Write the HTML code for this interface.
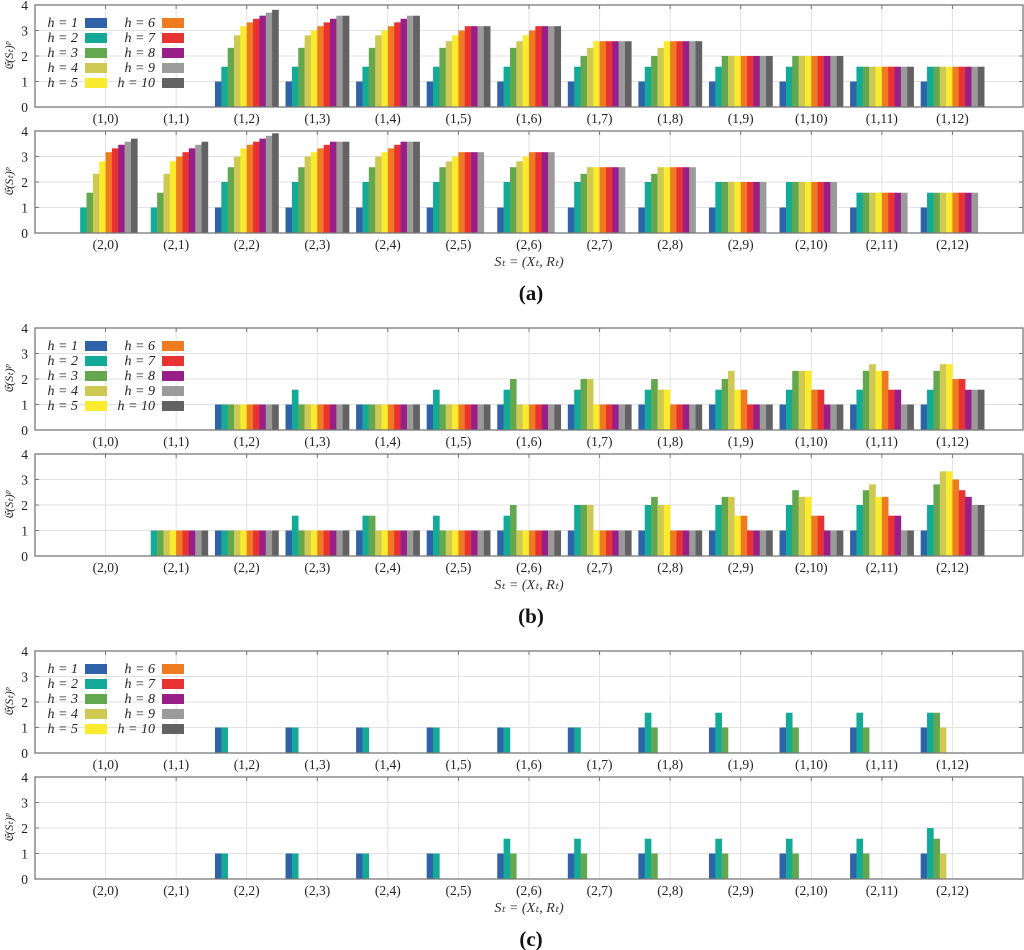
<!DOCTYPE html>
<html><head><meta charset="utf-8"><style>
body{margin:0;background:#fff;}
svg{display:block;font-family:"Liberation Serif",serif;}
</style></head><body>
<svg id="chart" width="1024" height="950"></svg>
<script>
const categories1 = ["(1,0)","(1,1)","(1,2)","(1,3)","(1,4)","(1,5)","(1,6)","(1,7)","(1,8)","(1,9)","(1,10)","(1,11)","(1,12)"];
const categories2 = ["(2,0)","(2,1)","(2,2)","(2,3)","(2,4)","(2,5)","(2,6)","(2,7)","(2,8)","(2,9)","(2,10)","(2,11)","(2,12)"];
const seriesNames = ["h = 1","h = 2","h = 3","h = 4","h = 5","h = 6","h = 7","h = 8","h = 9","h = 10"];
const yTicks = [0,1,2,3,4];
const panelLabels = ["(a)","(b)","(c)"];

const valuesA1 = [
[0,0,0,0,0,0,0,0,0,0],[0,0,0,0,0,0,0,0,0,0],
[1,1.58,2.32,2.81,3.17,3.32,3.46,3.58,3.70,3.81],
[1,1.58,2.32,2.81,3,3.17,3.32,3.46,3.58,3.58],
[1,1.58,2.32,2.81,3,3.17,3.32,3.46,3.58,3.58],
[1,1.58,2.32,2.58,2.81,3,3.17,3.17,3.17,3.17],
[1,1.58,2.32,2.58,2.81,3,3.17,3.17,3.17,3.17],
[1,1.58,2,2.32,2.58,2.58,2.58,2.58,2.58,2.58],
[1,1.58,2,2.32,2.58,2.58,2.58,2.58,2.58,2.58],
[1,1.58,2,2,2,2,2,2,2,2],
[1,1.58,2,2,2,2,2,2,2,2],
[1,1.58,1.58,1.58,1.58,1.58,1.58,1.58,1.58,1.58],
[1,1.58,1.58,1.58,1.58,1.58,1.58,1.58,1.58,1.58]];
const valuesA2 = [
[0,1,1.58,2.32,2.81,3.17,3.32,3.46,3.58,3.70],
[0,1,1.58,2.32,2.81,3,3.17,3.32,3.46,3.58],
[1,2,2.58,3,3.32,3.46,3.58,3.70,3.81,3.91],
[1,2,2.58,3,3.17,3.32,3.46,3.58,3.58,3.58],
[1,2,2.58,3,3.17,3.32,3.46,3.58,3.58,3.58],
[1,2,2.58,2.81,3,3.17,3.17,3.17,3.17,0],
[1,2,2.58,2.81,3,3.17,3.17,3.17,3.17,0],
[1,2,2.32,2.58,2.58,2.58,2.58,2.58,2.58,0],
[1,2,2.32,2.58,2.58,2.58,2.58,2.58,2.58,0],
[1,2,2,2,2,2,2,2,2,0],
[1,2,2,2,2,2,2,2,2,0],
[1,1.58,1.58,1.58,1.58,1.58,1.58,1.58,1.58,0],
[1,1.58,1.58,1.58,1.58,1.58,1.58,1.58,1.58,0]];
const valuesB1 = [
[0,0,0,0,0,0,0,0,0,0],[0,0,0,0,0,0,0,0,0,0],
[1,1,1,1,1,1,1,1,1,1],
[1,1.58,1,1,1,1,1,1,1,1],
[1,1,1,1,1,1,1,1,1,1],
[1,1.58,1,1,1,1,1,1,1,1],
[1,1.58,2,1,1,1,1,1,1,1],
[1,1.58,2,2,1,1,1,1,1,1],
[1,1.58,2,1.58,1.58,1,1,1,1,1],
[1,1.58,2,2.32,1.58,1.58,1,1,1,1],
[1,1.58,2.32,2.32,2.32,1.58,1.58,1,1,1],
[1,1.58,2.32,2.58,2.32,2.32,1.58,1.58,1,1],
[1,1.58,2.32,2.58,2.58,2,2,1.58,1.58,1.58]];
const valuesB2 = [
[0,0,0,0,0,0,0,0,0,0],
[0,1,1,1,1,1,1,1,1,1],
[1,1,1,1,1,1,1,1,1,1],
[1,1.58,1,1,1,1,1,1,1,1],
[1,1.58,1.58,1,1,1,1,1,1,1],
[1,1.58,1,1,1,1,1,1,1,1],
[1,1.58,2,1,1,1,1,1,1,1],
[1,2,2,2,1,1,1,1,1,1],
[1,2,2.32,2,2,1,1,1,1,1],
[1,2,2.32,2.32,1.58,1.58,1,1,1,1],
[1,2,2.58,2.32,2.32,1.58,1.58,1,1,1],
[1,2,2.58,2.81,2.32,2.32,1.58,1.58,1,1],
[1,2,2.81,3.32,3.32,3,2.58,2.32,2,2]];
const valuesC1 = [
[0,0,0,0],[0,0,0,0],[1,1,0,0],[1,1,0,0],[1,1,0,0],[1,1,0,0],[1,1,0,0],[1,1,0,0],
[1,1.58,1,0],[1,1.58,1,0],[1,1.58,1,0],[1,1.58,1,0],[1,1.58,1.58,1]];
const valuesC2 = [
[0,0,0,0],[0,0,0,0],[1,1,0,0],[1,1,0,0],[1,1,0,0],[1,1,0,0],
[1,1.58,1,0],[1,1.58,1,0],[1,1.58,1,0],[1,1.58,1,0],[1,1.58,1,0],[1,1.58,1,0],[1,2,1.58,1]];

const colors = ["#2f62a9","#14aa98","#63a84f","#cdc952","#fbeb2f","#ee7b20","#e93232","#991f88","#9b9b9b","#626262"];
const NS="http://www.w3.org/2000/svg";
const svg=document.getElementById('chart');
function mk(tag,attrs,parent){const e=document.createElementNS(NS,tag);for(const k in attrs)e.setAttribute(k,attrs[k]);(parent||svg).appendChild(e);return e;}

const L=35,R=1023,PH=102;
function xScale(i){return L+(i+1)*(R-L)/14;}
const groupW=0.9*(R-L)/14, barW=groupW/10;

function panel(top,cats,vals,name,legend){
  const bottom=top+PH;
  const y=v=>bottom-v*PH/4;
  const g=mk('g',{});
  
  
  yTicks.forEach(t=>{ if(t>0&&t<4){const l=mk('line',{x1:L,x2:R,y1:y(t),y2:y(t),stroke:'#e2e2e2','stroke-width':1},g);}
    const tl=mk('text',{x:L-7,y:y(t)+5,'text-anchor':'end','font-size':13.5,fill:'#222'},g);tl.textContent=t;
    
    mk('line',{x1:L,x2:L+4,y1:y(t),y2:y(t),stroke:'#777'},g);mk('line',{x1:R-4,x2:R,y1:y(t),y2:y(t),stroke:'#777'},g);
  });
  cats.forEach((c,i)=>{
    const x=xScale(i);
    const gl=mk('line',{x1:x,x2:x,y1:top,y2:bottom,stroke:'#e2e2e2'},g);
    
    mk('line',{x1:x,x2:x,y1:top,y2:top+4,stroke:'#777'},g);
    const t=mk('text',{x:x,y:bottom+16,'text-anchor':'middle','font-size':13.5,fill:'#222'},g);t.textContent=c;
    
    vals[i].forEach((v,h)=>{ if(v<=0)return;
      const bx=x-groupW/2+h*barW;
      const r=mk('rect',{x:bx,y:y(v),width:barW+0.3,height:bottom-y(v),fill:colors[h]},g);
      
      
    });
  });
  const fr=mk('rect',{x:L,y:top,width:R-L,height:PH,fill:'none',stroke:'#7a7a7a','stroke-width':1.3},g);
  
  const yl=mk('text',{x:0,y:0,transform:`translate(13,${top+PH/2}) rotate(-90)`,'text-anchor':'middle','font-size':12,'font-style':'italic',fill:'#222'},g);
  yl.textContent='𝔈(Sₜ)ᵖ';
  
  if(legend){
    const lg=mk('g',{},g);
    
    seriesNames.forEach((s,k)=>{
      const col=Math.floor(k/5),row=k%5;
      const tx=col?155:78, sx=col?162:85, ty=top+18+row*15;
      const e=mk('g',{},lg);
      
      const t=mk('text',{x:tx,y:ty+4,'text-anchor':'end','font-size':14,'font-style':'italic',fill:'#222'},e);
      t.textContent=s;
      mk('rect',{x:sx,y:ty-5,width:22,height:10,fill:colors[k]},e);
    });
  }
}
const offs=[0,323,646];
const sets=[[valuesA1,valuesA2],[valuesB1,valuesB2],[valuesC1,valuesC2]];
offs.forEach((o,p)=>{
  panel(5+o,categories1,sets[p][0],'panel-'+'abc'[p]+'-top',true);
  panel(131+o,categories2,sets[p][1],'panel-'+'abc'[p]+'-bottom',false);
  const xl=mk('text',{x:529,y:266+o,'text-anchor':'middle','font-size':14,'font-style':'italic',fill:'#333'});
  xl.textContent='Sₜ = (Xₜ, Rₜ)';
  
  const pl=mk('text',{x:531,y:300+o,'text-anchor':'middle','font-size':21,'font-weight':'bold',fill:'#111'});
  pl.textContent=panelLabels[p];
  
});
</script>
</body></html>
